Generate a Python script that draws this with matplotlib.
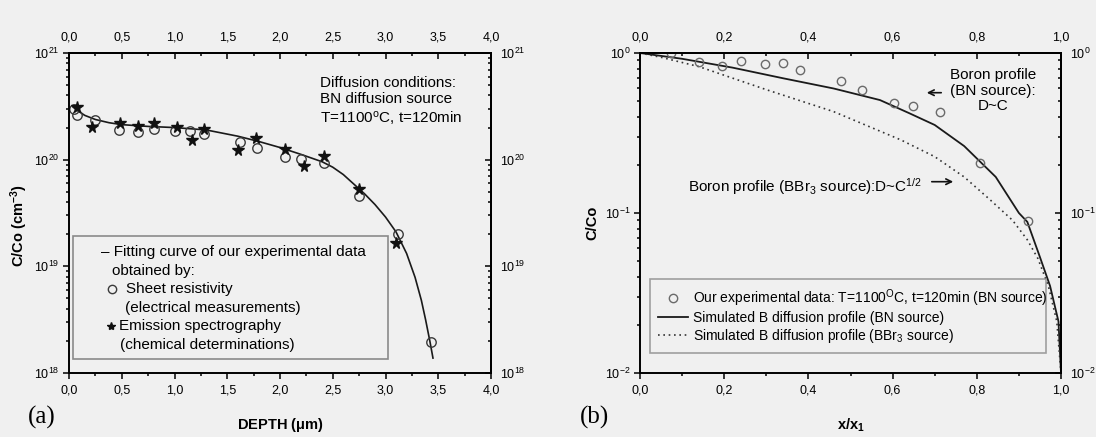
import numpy as np
import matplotlib.pyplot as plt
from matplotlib.ticker import (MultipleLocator, FuncFormatter, LogLocator,
                               NullFormatter, LogFormatterSciNotation)
from matplotlib.patches import Rectangle

plt.rcParams['font.family'] = ['Liberation Sans', 'DejaVu Sans']
plt.rcParams['mathtext.fontset'] = 'custom'
plt.rcParams['mathtext.rm'] = 'Liberation Sans'
plt.rcParams['mathtext.it'] = 'Liberation Sans:italic'
plt.rcParams['mathtext.bf'] = 'Liberation Sans:bold'

# (a) boron depth profile, C in cm^-3
depth_sr = [0.047, 0.079, 0.246, 0.477, 0.657, 0.809, 1.005, 1.147, 1.283,
            1.621, 1.785, 2.05, 2.199, 2.417, 2.749, 3.122, 3.428]
conc_sr = [3.0e20, 2.6e20, 2.36e20, 1.90e20, 1.82e20, 1.94e20, 1.86e20, 1.87e20,
           1.73e20, 1.47e20, 1.29e20, 1.07e20, 1.01e20, 0.94e20, 4.6e19, 2.0e19,
           1.94e18]
depth_es = [0.079, 0.221, 0.483, 0.657, 0.806, 1.021, 1.166, 1.280, 1.602, 1.773,
            2.047, 2.227, 2.417, 2.749, 3.10]
conc_es = [3.1e20, 2.04e20, 2.19e20, 2.07e20, 2.22e20, 2.04e20, 1.53e20, 1.94e20,
           1.23e20, 1.58e20, 1.25e20, 0.87e20, 1.08e20, 5.3e19, 1.67e19]
depth_fit = [0.04, 0.10, 0.15, 0.25, 0.38, 0.50, 0.75, 1.00, 1.30, 1.60, 1.80, 2.00,
             2.20, 2.40, 2.50, 2.60, 2.70, 2.80, 2.90, 3.00, 3.10, 3.20, 3.28, 3.34,
             3.38, 3.42, 3.45]
conc_fit = [3.1e20, 2.8e20, 2.6e20, 2.38e20, 2.22e20, 2.13e20, 2.05e20, 2.0e20,
            1.9e20, 1.66e20, 1.48e20, 1.3e20, 1.12e20, 9.55e19, 8.5e19, 7.25e19,
            5.9e19, 4.8e19, 3.8e19, 2.9e19, 2.1e19, 1.32e19, 7.9e18, 4.8e18,
            3.16e18, 2.0e18, 1.38e18]

# (b) normalised profiles C/Co versus x/x1
xn_exp = [0.073, 0.140, 0.194, 0.240, 0.296, 0.339, 0.380, 0.478, 0.527, 0.603,
          0.648, 0.713, 0.808, 0.921]
cn_exp = [1.0, 0.875, 0.83, 0.887, 0.85, 0.862, 0.783, 0.671, 0.587, 0.485,
          0.466, 0.426, 0.206, 0.0895]
xn_bn = [0.0, 0.10, 0.22, 0.34, 0.46, 0.57, 0.64, 0.70, 0.77, 0.845, 0.90, 0.92,
         0.95, 0.974, 0.994, 1.0]
cn_bn = [1.0, 0.92, 0.81, 0.695, 0.60, 0.508, 0.42, 0.355, 0.262, 0.168, 0.10,
         0.088, 0.053, 0.035, 0.021, 0.01]
xn_bbr3 = [0.0, 0.05, 0.14, 0.30, 0.46, 0.62, 0.70, 0.77, 0.83, 0.885, 0.92, 0.945,
           0.97, 0.99, 1.0]
cn_bbr3 = [1.0, 0.94, 0.822, 0.59, 0.43, 0.286, 0.225, 0.168, 0.122, 0.09, 0.068,
           0.052, 0.035, 0.021, 0.01]

bg = '#f0f0f0'
W, H = 1096, 437
fig = plt.figure(figsize=(W / 100, H / 100), dpi=100, facecolor=bg)
axa = fig.add_axes([69 / W, (H - 373) / H, 422 / W, 320 / H])
axb = fig.add_axes([640 / W, (H - 373) / H, 421 / W, 320 / H])

comma = FuncFormatter(lambda v, pos: f'{v:.1f}'.replace('.', ','))
TICK_FS = 9


def frame(ax, xmax, xstep, ylo, yhi):
    ax.set_facecolor(bg)
    ax.set_xlim(0, xmax)
    ax.set_yscale('log')
    ax.set_ylim(ylo, yhi)
    ax.xaxis.set_major_locator(MultipleLocator(xstep))
    ax.xaxis.set_minor_locator(MultipleLocator(xstep / 2))
    ax.xaxis.set_major_formatter(comma)
    ax.yaxis.set_major_locator(LogLocator(base=10))
    ax.yaxis.set_minor_locator(LogLocator(base=10, subs=np.arange(2, 10)))
    ax.yaxis.set_minor_formatter(NullFormatter())
    for s in ax.spines.values():
        s.set_linewidth(1.4)
    ax.tick_params(which='both', direction='out', width=1.1, labelsize=TICK_FS)
    ax.tick_params(which='major', length=4)
    ax.tick_params(which='minor', length=2.5)
    ax.tick_params(axis='x', pad=4.5)
    ax.tick_params(axis='y', pad=3)

    # mirrored scales on the top and right edges, ticks pointing inwards
    top = ax.secondary_xaxis('top')
    top.xaxis.set_major_locator(MultipleLocator(xstep))
    top.xaxis.set_minor_locator(MultipleLocator(xstep / 2))
    top.xaxis.set_major_formatter(comma)
    top.spines['top'].set_linewidth(1.4)
    top.tick_params(which='both', direction='in', width=1.1, labelsize=TICK_FS, pad=6.5)
    top.tick_params(which='major', length=4)
    top.tick_params(which='minor', length=2.5)

    right = ax.secondary_yaxis('right')
    right.yaxis.set_major_locator(LogLocator(base=10))
    right.yaxis.set_minor_locator(LogLocator(base=10, subs=np.arange(2, 10)))
    right.yaxis.set_major_formatter(LogFormatterSciNotation())
    right.yaxis.set_minor_formatter(NullFormatter())
    right.spines['right'].set_linewidth(1.4)
    right.tick_params(which='both', direction='in', width=1.1, labelsize=TICK_FS, pad=6.5)
    right.tick_params(which='major', length=4)
    right.tick_params(which='minor', length=2.5)


frame(axa, 4.0, 0.5, 1e18, 1e21)
frame(axb, 1.0, 0.2, 1e-2, 1e0)


def pa(px, py):
    return ((px - 69) / 422, (373 - py) / 320)


def pb(px, py):
    return ((px - 640) / 421, (373 - py) / 320)


# ---- panel (a)
axa.plot(depth_fit, conc_fit, color='#1a1a1a', lw=1.2)
axa.plot(depth_sr, conc_sr, ls='none', marker='o', ms=6.8, mfc='none',
         mec='#3a3a3a', mew=1.0)
axa.plot(depth_es, conc_es, ls='none', marker='*', ms=8.5, color='#111111')

axa.text(*pa(320, 101.7), 'Diffusion conditions:\nBN diffusion source\n'
         r'T=1100$^{\mathrm{o}}$C, t=120min',
         transform=axa.transAxes, ha='left', va='center', fontsize=11,
         linespacing=1.2)

axa.add_patch(Rectangle(pa(73, 358.5), 315 / 422, 123 / 320,
                        transform=axa.transAxes, fill=False, ec='#8a8a8a', lw=1.2))
leg_lines = [('– Fitting curve of our experimental data', 101, 251.7),
             ('obtained by:', 112, 270.7),
             ('Sheet resistivity', 126, 289.3),
             ('(electrical measurements)', 125, 308.3),
             ('Emission spectrography', 119, 326),
             ('(chemical determinations)', 120, 345)]
for s, px, py in leg_lines:
    axa.text(*pa(px, py), s, transform=axa.transAxes, ha='left', va='center',
             fontsize=11)
axa.plot(*pa(112, 289.3), transform=axa.transAxes, marker='o', ms=6, mfc='none',
         mec='#3a3a3a', mew=1.0, clip_on=False)
axa.plot(*pa(111, 326), transform=axa.transAxes, marker='*', ms=6, color='#111111',
         clip_on=False)

axa.set_xlabel(r'DEPTH ($\mathbf{\mu}$m)', fontsize=10.5, fontweight='bold')
axa.xaxis.set_label_coords(0.5, -0.135)
axa.set_ylabel(r'C/Co (cm$^{\mathbf{-3}}$)', fontsize=10.5, fontweight='bold')
axa.yaxis.set_label_coords(-0.118, 0.46)
axa.yaxis.label.set_va('center')

# ---- panel (b)
h_bn, = axb.plot(xn_bn, cn_bn, color='#1a1a1a', lw=1.3,
                 label='Simulated B diffusion profile (BN source)')
h_bbr, = axb.plot(xn_bbr3, cn_bbr3, color='#333333', lw=1.2, ls=(0, (1, 2.2)),
                  label='Simulated B diffusion profile (BBr$_3$ source)')
h_exp, = axb.plot(xn_exp, cn_exp, ls='none', marker='o', ms=6, mfc='none',
                  mec='#6a6a6a', mew=1.0,
                  label=r'Our experimental data: T=1100$^{\mathrm{O}}$C, t=120min (BN source)')
leg = axb.legend(handles=[h_exp, h_bn, h_bbr], loc='lower left',
                 bbox_to_anchor=(*pb(650, 353.3), 396 / 421, 66 / 320),
                 mode='expand', borderaxespad=0, fontsize=10, handlelength=2.15,
                 handletextpad=0.35, labelspacing=0.15, borderpad=0.6,
                 frameon=True, fancybox=False, numpoints=1)
leg.get_frame().set_edgecolor('#8a8a8a')
leg.get_frame().set_linewidth(1.2)
leg.get_frame().set_facecolor('none')

axb.text(*pb(993, 90.7), 'Boron profile\n(BN source):\nD~C', transform=axb.transAxes,
         ha='center', va='center', multialignment='center', fontsize=11,
         linespacing=1.15)
axb.annotate('', xy=pb(924, 92.7), xytext=pb(944, 92.7), xycoords='axes fraction',
             arrowprops=dict(arrowstyle='->', lw=1.2, color='#111111'))
axb.text(*pb(688, 186.7), r'Boron profile (BBr$_3$ source):D~C$^{1/2}$',
         transform=axb.transAxes, ha='left', va='center', fontsize=11)
axb.annotate('', xy=pb(956, 181.7), xytext=pb(929, 181.7), xycoords='axes fraction',
             arrowprops=dict(arrowstyle='->', lw=1.2, color='#111111'))

axb.set_xlabel(r'x/x$_{\mathbf{1}}$', fontsize=10.5, fontweight='bold')
axb.xaxis.set_label_coords(0.5, -0.135)
axb.set_ylabel('C/Co', fontsize=10.5, fontweight='bold')
axb.yaxis.set_label_coords(-0.114, 0.47)
axb.yaxis.label.set_va('center')

fig.text(28 / W, (H - 417) / H, '(a)', family='Liberation Serif', fontsize=18,
         ha='left', va='center')
fig.text(580 / W, (H - 417) / H, '(b)', family='Liberation Serif', fontsize=18,
         ha='left', va='center')

fig.savefig('out.png', dpi=100, facecolor=bg)
